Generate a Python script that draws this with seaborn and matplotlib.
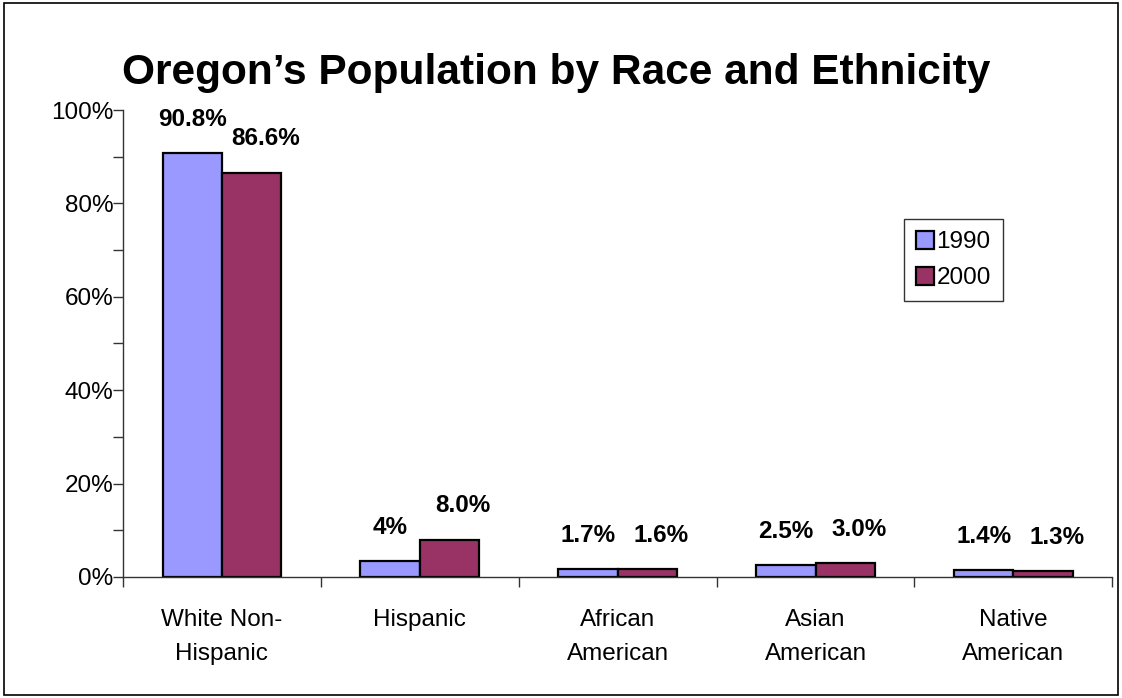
import pandas as pd
import numpy as np
import matplotlib
matplotlib.use("Agg")
import matplotlib.pyplot as plt
import matplotlib.ticker as mticker
from matplotlib.patches import Rectangle
import seaborn as sns

# ---------------------------------------------------------
# DATA
# ---------------------------------------------------------
categories = ["White Non-\nHispanic", "Hispanic", "African\nAmerican",
              "Asian\nAmerican", "Native\nAmerican"]
years = ["1990", "2000"]
pct_1990 = [90.8, 3.5, 1.7, 2.5, 1.4]
pct_2000 = [86.6, 8.0, 1.6, 3.0, 1.3]
labels_1990 = ["90.8%", "4%", "1.7%", "2.5%", "1.4%"]
labels_2000 = ["86.6%", "8.0%", "1.6%", "3.0%", "1.3%"]
y_ticks = [0, 20, 40, 60, 80, 100]

df = pd.DataFrame({
    "Category": categories * 2,
    "Year": [years[0]] * len(categories) + [years[1]] * len(categories),
    "Pct": pct_1990 + pct_2000,
})

PALETTE = {"1990": "#9999FF", "2000": "#993366"}

sns.set_theme(style="white")
plt.rcParams["font.family"] = ["Liberation Sans", "DejaVu Sans"]
plt.rcParams["text.color"] = "black"
plt.rcParams["xtick.color"] = "black"
plt.rcParams["ytick.color"] = "black"

fig = plt.figure(figsize=(11.22, 6.98), dpi=100)
ax = fig.add_axes([0.1096, 0.1734, 0.8818, 0.669])

sns.barplot(data=df, x="Category", y="Pct", hue="Year", palette=PALETTE,
            width=0.6, edgecolor="black", linewidth=1.6, saturation=1,
            ax=ax, legend=True)

# value labels above bars
for cont, labs, dx in zip(ax.containers, [labels_1990, labels_2000], [0.0, 0.07]):
    for bar, lab in zip(cont, labs):
        x = bar.get_x() + bar.get_width() / 2 + dx
        ax.text(x, bar.get_height() + 7.2, lab, ha="center", va="center",
                fontsize=17.5, fontweight="bold", color="black")

# axes styling
ax.set_xlim(-0.5, len(categories) - 0.5)
ax.set_ylim(0, 100)
ax.set_yticks(y_ticks)
ax.yaxis.set_major_formatter(mticker.PercentFormatter(xmax=100, decimals=0))
ax.yaxis.set_minor_locator(mticker.MultipleLocator(10))
ax.xaxis.set_minor_locator(mticker.FixedLocator(np.arange(-0.5, len(categories), 1.0)))
ax.tick_params(axis="y", which="both", direction="out", length=7, width=1,
               color="#333333", labelsize=17.5, pad=0, left=True)
ax.tick_params(axis="x", which="major", length=0, labelsize=17.5, pad=23)
ax.tick_params(axis="x", which="minor", direction="out", length=7, width=1,
               color="#333333", bottom=True)
for t in ax.get_xticklabels():
    t.set_linespacing(1.7)
ax.set_xlabel("")
ax.set_ylabel("")
for s in ["top", "right"]:
    ax.spines[s].set_visible(False)
for s in ["left", "bottom"]:
    ax.spines[s].set_color("#333333")
    ax.spines[s].set_linewidth(1)

leg = ax.legend(loc="upper left", bbox_to_anchor=(0.789, 0.767), borderaxespad=0,
                fontsize=17.5, frameon=True, fancybox=False, framealpha=1,
                edgecolor="#333333", handlelength=0.75, handleheight=0.75,
                handletextpad=0.1, labelspacing=0.55, borderpad=0.5)
leg.get_frame().set_linewidth(1)
for h in leg.legend_handles:
    h.set_edgecolor("black")
    h.set_linewidth(1.6)

fig.text(0.4955, 0.895, "Oregon\u2019s Population by Race and Ethnicity",
         ha="center", va="center", fontsize=30.5, fontweight="bold", color="black")

# border round the whole figure
fig.patches.append(Rectangle((0.004, 0.004), 0.992, 0.992, transform=fig.transFigure,
                             fill=False, edgecolor="black", linewidth=1.2))

plt.savefig("out.png", dpi=100)
plt.close()
